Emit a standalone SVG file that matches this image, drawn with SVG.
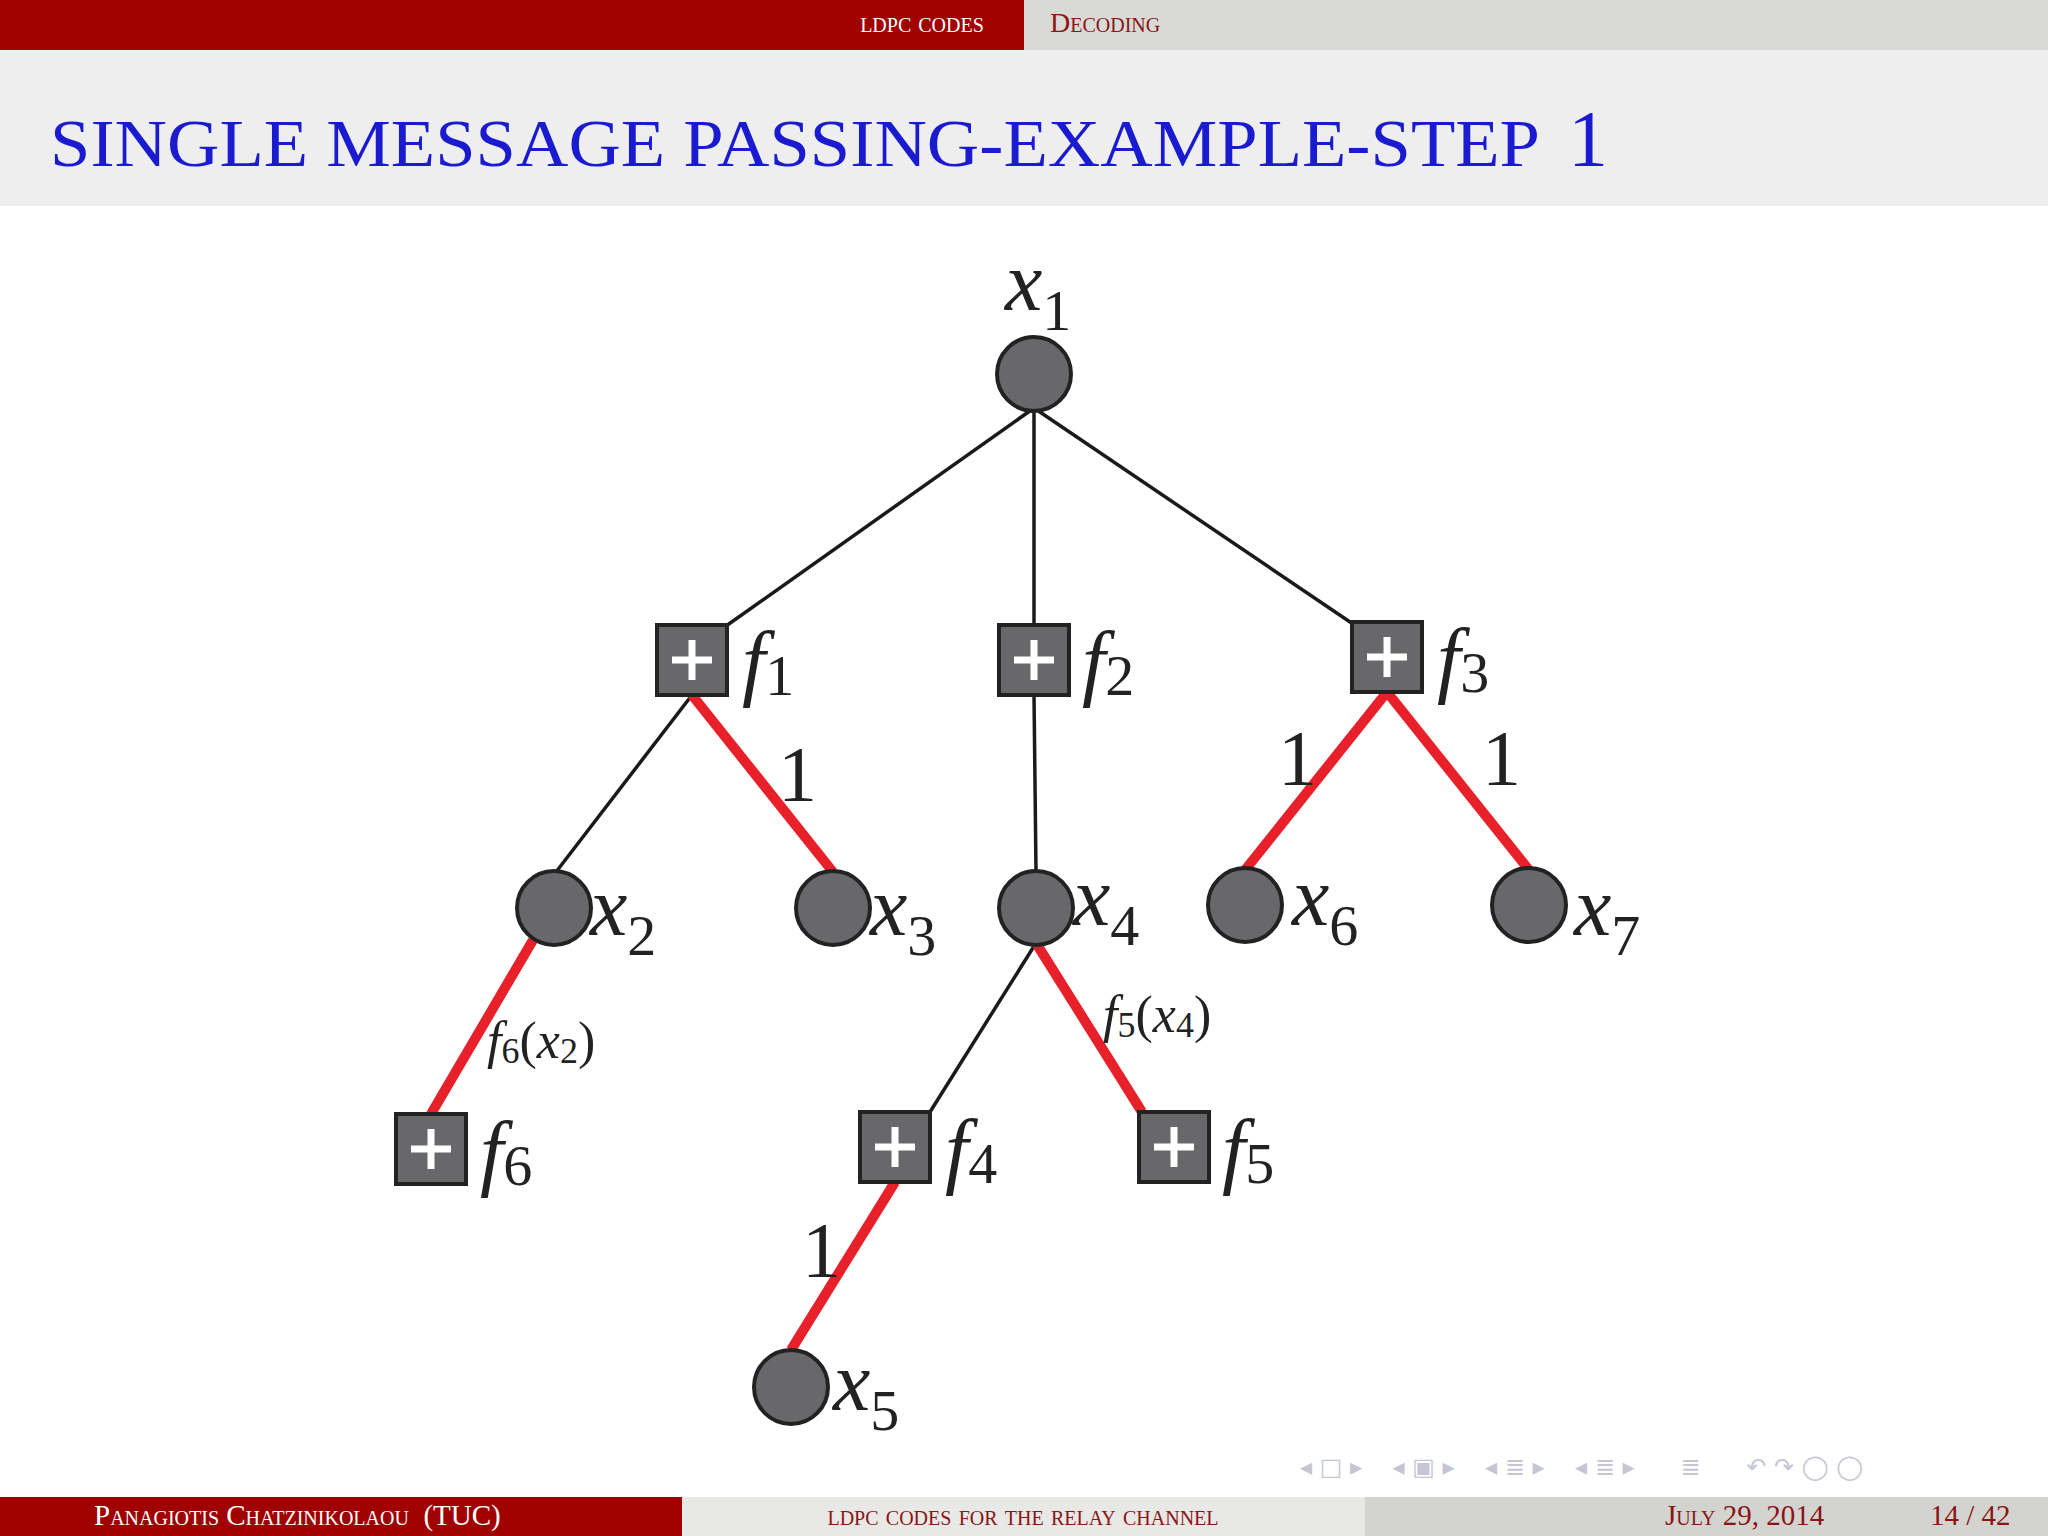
<svg xmlns="http://www.w3.org/2000/svg" width="2048" height="1536" viewBox="0 0 2048 1536">
<style>
.sc{font-family:"Liberation Serif",serif;font-variant:small-caps}
.m{font-family:"Liberation Serif",serif;font-style:italic;font-size:84px;fill:#222}
.sub{font-family:"Liberation Serif",serif;font-style:normal;font-size:58px}
.num{font-family:"Liberation Serif",serif;font-size:78px;fill:#222}
.v{fill:#68686b;stroke:#222;stroke-width:4}
.f{fill:#68686b;stroke:#222;stroke-width:4}
.p{stroke:#fff;stroke-width:7}
.k{stroke:#1a1a1a;stroke-width:3.5}
.r{stroke:#e8202a;stroke-width:10}
.ml{font-size:52px}
.ml .sub{font-size:36px}
</style>
<defs>
<g id="fac"><rect class="f" x="-35" y="-35" width="70" height="70"/><line class="p" x1="-20" y1="0" x2="20" y2="0"/><line class="p" x1="0" y1="-20" x2="0" y2="20"/></g>
</defs>
<rect width="2048" height="1536" fill="#fff"/>
<rect x="0" y="0" width="1024" height="50" fill="#a00000"/>
<rect x="1024" y="0" width="1024" height="50" fill="#d9dad6"/>
<text class="sc" x="922" y="32" font-size="28" fill="#fff" text-anchor="middle">ldpc codes</text>
<text class="sc" x="1050" y="32" font-size="28" fill="#8a1515">Decoding</text>
<rect x="0" y="50" width="2048" height="156" fill="#eeeeee"/>
<text x="50" y="166" font-family="Liberation Serif,serif" font-size="68" fill="#1a1ad0" textLength="1490" lengthAdjust="spacingAndGlyphs">SINGLE  MESSAGE  PASSING-EXAMPLE-STEP</text>
<text x="1568" y="166" font-family="Liberation Serif,serif" font-size="80" fill="#1a1ad0">1</text>

<g id="connectors">
<line class="k" x1="1034" y1="408" x2="726" y2="626"/>
<line class="k" x1="1034" y1="408" x2="1034" y2="625"/>
<line class="k" x1="1034" y1="408" x2="1353" y2="624"/>
<line class="k" x1="692" y1="695" x2="556" y2="872"/>
<line class="r" x1="692" y1="695" x2="833" y2="872"/>
<line class="k" x1="1034" y1="695" x2="1036" y2="871"/>
<line class="r" x1="1387" y1="692" x2="1245" y2="870"/>
<line class="r" x1="1387" y1="692" x2="1529" y2="870"/>
<line class="r" x1="533" y1="940" x2="431" y2="1114"/>
<line class="k" x1="1036" y1="943" x2="930" y2="1112"/>
<line class="r" x1="1036" y1="943" x2="1142" y2="1112"/>
<line class="r" x1="895" y1="1182" x2="791" y2="1350"/>
</g>

<g id="x1"><circle class="v" cx="1034" cy="374" r="37"/><text class="m" x="1005" y="310">x<tspan class="sub" dy="20">1</tspan></text></g>
<g id="f1"><use href="#fac" x="692" y="660"/><text class="m" x="742" y="690">f<tspan class="sub" dy="5">1</tspan></text></g>
<g id="f2"><use href="#fac" x="1034" y="660"/><text class="m" x="1082" y="690">f<tspan class="sub" dy="5">2</tspan></text></g>
<g id="f3"><use href="#fac" x="1387" y="657"/><text class="m" x="1437" y="687">f<tspan class="sub" dy="5">3</tspan></text></g>
<g id="x2"><circle class="v" cx="554" cy="908" r="37"/><text class="m" x="590" y="935">x<tspan class="sub" dy="20">2</tspan></text></g>
<g id="x3"><circle class="v" cx="833" cy="908" r="37"/><text class="m" x="870" y="935">x<tspan class="sub" dy="20">3</tspan></text></g>
<g id="x4"><circle class="v" cx="1036" cy="908" r="37"/><text class="m" x="1073" y="925">x<tspan class="sub" dy="20">4</tspan></text></g>
<g id="x6"><circle class="v" cx="1245" cy="905" r="37"/><text class="m" x="1292" y="925">x<tspan class="sub" dy="20">6</tspan></text></g>
<g id="x7"><circle class="v" cx="1529" cy="905" r="37"/><text class="m" x="1574" y="935">x<tspan class="sub" dy="20">7</tspan></text></g>
<g id="f6"><use href="#fac" x="431" y="1149"/><text class="m" x="480" y="1180">f<tspan class="sub" dy="5">6</tspan></text></g>
<g id="f4"><use href="#fac" x="895" y="1147"/><text class="m" x="945" y="1178">f<tspan class="sub" dy="5">4</tspan></text></g>
<g id="f5"><use href="#fac" x="1174" y="1147"/><text class="m" x="1222" y="1178">f<tspan class="sub" dy="5">5</tspan></text></g>
<g id="x5"><circle class="v" cx="791" cy="1387" r="37" fill="#555"/><text class="m" x="833" y="1410">x<tspan class="sub" dy="20">5</tspan></text></g>

<g id="labels">
<text class="num" x="778" y="800">1</text>
<text class="num" x="1278" y="784">1</text>
<text class="num" x="1482" y="784">1</text>
<text class="num" x="802" y="1276">1</text>
<text class="m ml" x="487" y="1058">f<tspan class="sub" dy="5">6</tspan><tspan dy="-5" style="font-style:normal">(</tspan>x<tspan class="sub" dy="5">2</tspan><tspan dy="-5" style="font-style:normal">)</tspan></text>
<text class="m ml" x="1103" y="1032">f<tspan class="sub" dy="5">5</tspan><tspan dy="-5" style="font-style:normal">(</tspan>x<tspan class="sub" dy="5">4</tspan><tspan dy="-5" style="font-style:normal">)</tspan></text>
</g>

<text x="1300" y="1475" font-family="DejaVu Sans,sans-serif" font-size="24" fill="#c5c5d5" xml:space="preserve">◂ □ ▸    ◂ ▣ ▸    ◂ ≣ ▸    ◂ ≣ ▸      ≣      ↶ ↷ ◯ ◯</text>

<rect x="0" y="1497" width="682" height="39" fill="#a00000"/>
<rect x="682" y="1497" width="683" height="39" fill="#e8e8e6"/>
<rect x="1365" y="1497" width="683" height="39" fill="#d3d4d0"/>
<text class="sc" x="94" y="1525" font-size="29" fill="#fff" xml:space="preserve">Panagiotis Chatzinikolaou  (TUC)</text>
<text class="sc" x="1023" y="1525" font-size="29" fill="#8a1515" text-anchor="middle">ldpc codes for the relay channel</text>
<text class="sc" x="1665" y="1525" font-size="29" fill="#8a1515">July 29, 2014</text>
<text class="sc" x="1930" y="1525" font-size="29" fill="#8a1515">14 / 42</text>
</svg>
